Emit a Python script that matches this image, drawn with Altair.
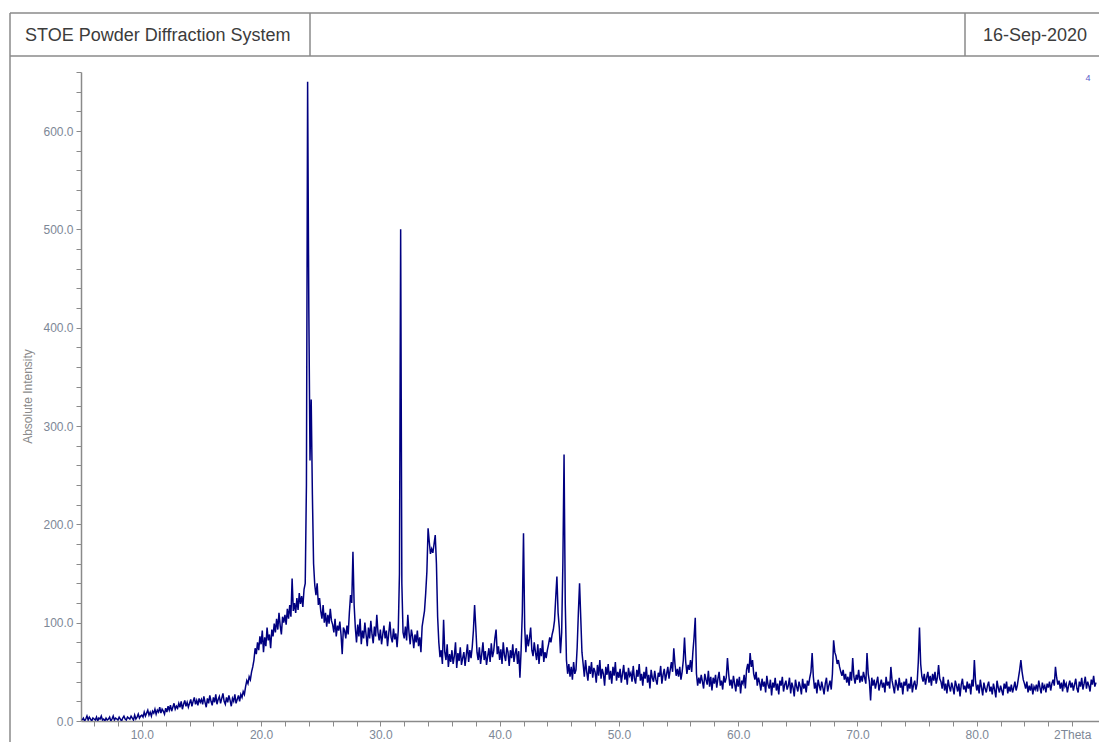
import altair as alt
import pandas as pd

# ---- data (2Theta grid: 5.0 .. 90.0, step 0.1) ----
two_theta_start = 5.0
two_theta_step = 0.1

int_05_10 = [1, 3, 0, 2, 5, 1, 4, 2, 0, 3,
             2, 1, 4, 0, 3, 2, 5, 1, 2, 0,
             3, 1, 2, 4, 0, 2, 5, 1, 3, 2,
             1, 4, 2, 0, 3, 5, 2, 1, 4, 3,
             2, 5, 3, 1, 6, 2, 4, 7, 3, 5]
int_10_20 = [6, 4, 9, 5, 8, 11, 6, 9, 5, 10,
             8, 12, 7, 11, 9, 14, 8, 12, 10, 7,
             13, 9, 15, 11, 16, 10, 14, 18, 12, 15,
             13, 18, 14, 20, 12, 17, 21, 15, 19, 14,
             18, 22, 15, 20, 24, 17, 21, 16, 23, 19,
             22, 17, 25, 19, 14, 23, 18, 26, 20, 16,
             24, 19, 27, 17, 22, 25, 18, 23, 28, 20,
             17, 24, 19, 26, 21, 15, 23, 20, 27, 18,
             22, 26, 20, 27, 24, 30, 27, 35, 41, 38,
             45, 42, 50, 55, 62, 74, 68, 80, 72, 86]
int_20_30 = [78, 92, 70, 85, 76, 95, 82, 88, 74, 93,
             86, 99, 90, 104, 93, 110, 97, 88, 106, 100,
             108, 98, 114, 104, 118, 106, 145, 112, 120, 110,
             125, 113, 130, 119, 127, 116, 134, 140, 240, 650,
             420, 265, 327, 230, 160, 138, 128, 140, 118, 125,
             112, 104, 118, 100, 110, 96, 108, 99, 114, 102,
             98, 90, 104, 86, 97, 92, 101, 88, 68, 95,
             92, 84, 97, 88, 110, 128, 120, 172, 118, 95,
             80, 98, 86, 104, 78, 92, 84, 100, 88, 76,
             95, 84, 102, 88, 79, 96, 86, 108, 90, 82]
int_30_40 = [93, 78, 88, 97, 84, 92, 76, 89, 101, 85,
             80, 94, 83, 89, 75, 92, 150, 500, 140, 90,
             84, 96, 82, 108, 90, 78, 93, 86, 74, 88,
             80, 92, 76, 85, 70, 96, 104, 112, 130, 152,
             196, 182, 170, 175, 171, 180, 189, 160, 106, 80,
             65, 72, 58, 103, 70, 62, 78, 55, 68, 60,
             72, 58, 66, 80, 54, 69, 61, 75, 57, 64,
             70, 56, 67, 78, 60, 72, 64, 75, 92, 118,
             95, 70, 62, 75, 58, 68, 80, 62, 71, 57,
             66, 74, 60, 79, 65, 71, 84, 93, 68, 76]
int_40_50 = [62, 73, 58, 80, 67, 61, 75, 70, 56, 72,
             64, 78, 60, 69, 74, 58, 71, 44, 72, 110,
             191, 95, 70, 88, 76, 84, 95, 72, 66, 80,
             70, 62, 78, 58, 74, 66, 82, 60, 70, 64,
             72, 78, 85, 80, 88, 93, 102, 125, 147, 110,
             95, 69, 90, 160, 271, 120, 62, 48, 58, 45,
             55, 42, 60, 48, 52, 75, 110, 140, 105, 70,
             58, 45, 62, 50, 41, 56, 48, 60, 44, 54,
             50, 39, 57, 46, 62, 43, 53, 48, 36, 55,
             47, 58, 42, 51, 38, 55, 46, 60, 41, 50]
int_50_60 = [44, 53, 39, 48, 57, 42, 50, 37, 54, 46,
             49, 40, 56, 43, 38, 52, 45, 58, 41, 48,
             36, 50, 43, 55, 39, 47, 33, 52, 44, 40,
             51, 42, 37, 49, 45, 56, 38, 47, 53, 41,
             48, 55, 43, 52, 60, 50, 74, 58, 46, 53,
             45, 55, 42, 50, 62, 85, 60, 48, 57, 52,
             62, 50, 70, 85, 105, 48, 36, 44, 38, 47,
             40, 33, 48, 42, 37, 51, 35, 45, 31, 44,
             38, 47, 34, 43, 50, 36, 41, 32, 46, 39,
             44, 64, 48, 36, 42, 33, 46, 38, 30, 43]
int_60_70 = [35, 45, 28, 41, 38, 47, 33, 52, 58, 49,
             69, 55, 62, 48, 42, 50, 36, 44, 39, 31,
             43, 35, 40, 29, 46, 37, 33, 42, 26, 39,
             34, 44, 31, 38, 27, 41, 36, 45, 30, 37,
             41, 32, 36, 44, 28, 39, 34, 25, 42, 35,
             30, 40, 35, 27, 43, 33, 38, 29, 41, 36,
             44, 50, 69, 45, 33, 39, 28, 42, 36, 31,
             40, 34, 27, 38, 44, 30, 36, 41, 32, 48,
             82, 70, 66, 58, 62, 55, 50, 46, 52, 42,
             48, 39, 45, 36, 50, 41, 64, 45, 38, 47]
int_70_80 = [42, 52, 39, 46, 40, 50, 44, 38, 69, 48,
             40, 21, 44, 36, 42, 33, 39, 45, 31, 37,
             42, 34, 39, 29, 45, 36, 40, 33, 55, 41,
             35, 28, 42, 37, 31, 44, 34, 39, 27, 40,
             36, 43, 30, 38, 33, 45, 29, 37, 41, 32,
             38, 60, 95, 58, 45, 40, 48, 37, 44, 50,
             39, 46, 36, 48, 41, 50, 38, 44, 57, 43,
             40, 33, 45, 31, 38, 28, 42, 35, 30, 39,
             34, 27, 41, 36, 30, 38, 25, 37, 43, 32,
             36, 29, 40, 33, 38, 27, 42, 35, 62, 40]
int_80_90 = [31, 37, 28, 42, 34, 26, 39, 33, 29, 36,
             40, 30, 35, 27, 38, 32, 24, 41, 34, 29,
             36, 31, 26, 38, 33, 40, 28, 35, 30, 37,
             29, 34, 40, 31, 36, 44, 52, 62, 50, 42,
             38, 33, 40, 29, 36, 31, 38, 27, 35, 32,
             37, 30, 41, 34, 28, 39, 33, 36, 29, 38,
             34, 40, 31, 38, 42, 36, 55, 44, 37, 41,
             33, 39, 30, 42, 35, 38, 29, 36, 41, 34,
             39, 31, 37, 43, 33, 29, 40, 35, 44, 32,
             38, 45, 33, 40, 36, 30, 42, 37, 46, 35,
             39]

x_tick_values = list(range(6, 90, 2))
y_tick_values = list(range(0, 661, 20))
header_left = "STOE Powder Diffraction System"
header_right = "16-Sep-2020"
curve_label = "4"

intensity = (int_05_10 + int_10_20 + int_20_30 + int_30_40 + int_40_50 +
             int_50_60 + int_60_70 + int_70_80 + int_80_90)
two_theta = [round(two_theta_start + i * two_theta_step, 2) for i in range(len(intensity))]
df = pd.DataFrame({"two_theta": two_theta, "intensity": intensity})

W, H = 1018, 649
FRAME = "#8a8a8a"
LABEL = "#7d8796"
FONT = "Liberation Sans"

line = alt.Chart(df).mark_line(color="#000080", strokeWidth=1.5, clip=True).encode(
    x=alt.X("two_theta:Q",
            scale=alt.Scale(domain=[4.9, 90.25], nice=False, zero=False),
            axis=alt.Axis(values=x_tick_values,
                          labelExpr="datum.value == 88 ? '2Theta' : (datum.value % 10 == 0 ? format(datum.value, '.1f') : '')",
                          title=None, grid=False, tickSize=5, labelPadding=3,
                          labelFlush=False, labelOverlap=False,
                          domainColor=FRAME, domainWidth=1.5, tickColor=FRAME, tickWidth=1,
                          labelColor=LABEL, labelFontSize=12, labelFont=FONT)),
    y=alt.Y("intensity:Q",
            scale=alt.Scale(domain=[0, 660], nice=False, zero=True),
            axis=alt.Axis(values=y_tick_values,
                          labelExpr="datum.value % 100 == 0 ? format(datum.value, '.1f') : ''",
                          title="Absolute Intensity", grid=False, tickSize=5, labelPadding=3,
                          labelOverlap=False, labelFlush=False,
                          domainColor=FRAME, domainWidth=1.5, tickColor=FRAME, tickWidth=1,
                          labelColor=LABEL, labelFontSize=12, labelFont=FONT,
                          titleColor="#8a8a8a", titleFontSize=12, titleFont=FONT,
                          titleFontWeight="normal", titleAngle=270,
                          titleX=-54, titleY=324, titleAlign="center", titleBaseline="middle")),
)

blank = alt.Data(values=[{}])


def frame_rule(x1, x2, y1, y2):
    return alt.Chart(blank).mark_rule(color=FRAME, strokeWidth=1.5).encode(
        x=alt.value(x1), x2=alt.value(x2), y=alt.value(y1), y2=alt.value(y2))


def label_text(txt, x, y, align, size, color):
    return alt.Chart(blank).mark_text(
        text=txt, align=align, baseline="middle", fontSize=size, font=FONT, color=color
    ).encode(x=alt.value(x), y=alt.value(y))


frame = [
    frame_rule(-71, 1030, -59, -59),
    frame_rule(-71, 1030, -16, -16),
    frame_rule(-71, -71, -59, 680),
    frame_rule(229, 229, -59, -16),
    frame_rule(884, 884, -59, -16),
]
texts = [
    label_text(header_left, -56, -36, "left", 18, "#3c3c3c"),
    label_text(header_right, 1006, -36, "right", 18, "#3c3c3c"),
    label_text(curve_label, 1007, 6, "center", 9, "#5a5ac8"),
]

chart = alt.layer(line, *frame, *texts).properties(
    width=W, height=H,
    autosize=alt.AutoSizeParams(type="none"),
    padding={"left": 81, "top": 72, "right": 0, "bottom": 21},
    background="white",
).configure_view(stroke=None)

chart.save("out.html", embed_options={"renderer": "svg", "actions": False})
